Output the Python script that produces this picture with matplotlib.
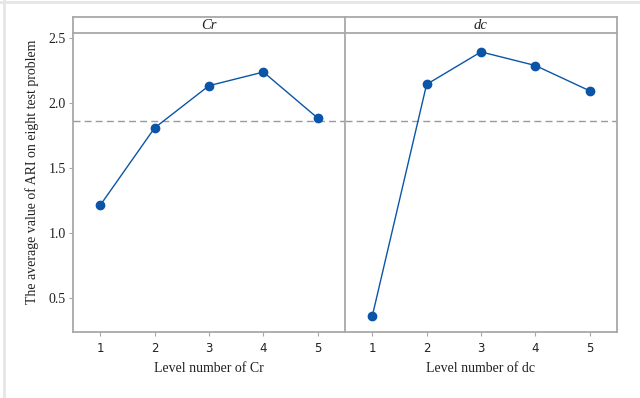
import numpy as np
import matplotlib.pyplot as plt
from matplotlib.lines import Line2D

# level numbers and mean ARI per factor
levels = [1, 2, 3, 4, 5]
cr_means = [1.215, 1.81, 2.135, 2.24, 1.885]
dc_means = [0.36, 2.145, 2.395, 2.29, 2.095]
grand_mean = 1.86
factors = ['Cr', 'dc']
yticks = [0.5, 1.0, 1.5, 2.0, 2.5]

plt.rcParams['font.family'] = ['Liberation Serif', 'DejaVu Serif']
edge = '#a8a8a8'
blue = '#0a55a8'

fig = plt.figure(figsize=(6.4, 3.98), dpi=100)
fig.patch.set_facecolor('white')

# light frame lines at the top and left of the image
fig.add_artist(Line2D([0, 1], [0.995, 0.995], color='#e6e6e6', lw=2))
fig.add_artist(Line2D([0.0055, 0.0055], [0, 1], color='#e6e6e6', lw=2))

bottom, top = 0.1658, 0.917
strip_h = 0.0402
lefts = [73/640, 345/640]
width = 272/640

for i, (name, vals) in enumerate(zip(factors, [cr_means, dc_means])):
    ax = fig.add_axes([lefts[i], bottom, width, top - bottom])
    ax.plot(levels, vals, color=blue, lw=1.0, marker='o', ms=6,
            mfc=blue, mec=blue, zorder=3)
    ax.axhline(grand_mean, color='#9a9a9a', lw=1.0, ls=(0, (5, 3)), zorder=1)
    ax.set_xlim(0.5, 5.5)
    ax.set_ylim(0.24, 2.54)
    ax.set_xticks(levels)
    ax.set_xticklabels([str(l) for l in levels], family='DejaVu Sans',
                       fontsize=8.5, color='#222222')
    ax.tick_params(axis='x', length=3, color=edge, pad=4)
    for s in ax.spines.values():
        s.set_color(edge)
        s.set_linewidth(1.3)
    ax.spines['top'].set_visible(False)
    if i == 0:
        ax.set_yticks(yticks)
        ax.set_yticklabels(['%.1f' % t for t in yticks], fontsize=10,
                           color='#222222')
        ax.tick_params(axis='y', length=3, color=edge, pad=2)
        ax.spines['right'].set_visible(False)
        ax.set_ylabel('The average value of ARI on eight test problem',
                      fontsize=10, color='#222222')
        ax.yaxis.set_label_coords(-0.125, 0.535)
    else:
        ax.set_yticks([])
    ax.set_xlabel('Level number of ' + name, fontsize=10, color='#222222',
                  labelpad=5)

    sax = fig.add_axes([lefts[i], top, width, strip_h])
    sax.set_xticks([])
    sax.set_yticks([])
    for s in sax.spines.values():
        s.set_color(edge)
        s.set_linewidth(1.3)
    if i == 0:
        sax.spines['right'].set_visible(False)
    sax.text(0.5, 0.45, name, ha='center', va='center', fontsize=10.5,
             style='italic', color='#222222', transform=sax.transAxes)

fig.savefig('out.png', dpi=100)
